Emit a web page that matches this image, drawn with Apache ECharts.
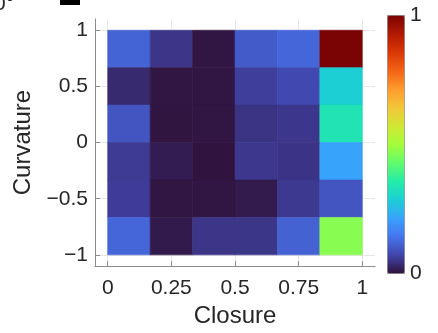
<!DOCTYPE html>
<html>
<head>
<meta charset="utf-8">
<script src="https://cdn.jsdelivr.net/npm/echarts@6/dist/echarts.min.js"></script>
<style>
html,body{margin:0;padding:0;background:#fff;}
#chart{width:438px;height:333px;}
</style>
</head>
<body>
<div id="chart"></div>
<script>
// ---- data ----
const closureCenters = [0.0833, 0.25, 0.4167, 0.5833, 0.75, 0.9167];
const curvatureCenters = [0.8333, 0.5, 0.1667, -0.1667, -0.5, -0.8333];
// values[row][col], rows top (curvature 0.83) to bottom (-0.83)
const values = [
  [0.116, 0.049, 0.005, 0.104, 0.121, 1.000],
  [0.033, 0.005, 0.005, 0.061, 0.077, 0.286],
  [0.095, 0.004, 0.005, 0.046, 0.052, 0.336],
  [0.057, 0.014, 0.002, 0.053, 0.048, 0.216],
  [0.059, 0.005, 0.006, 0.012, 0.054, 0.095],
  [0.120, 0.011, 0.049, 0.050, 0.114, 0.470]
];
const xTicks = [0, 0.25, 0.5, 0.75, 1];
const yTicks = [-1, -0.5, 0, 0.5, 1];
const colorbarLabels = ['1', '0'];

// ---- styles ----
const turbo = ['#30123b','#4145ab','#4675ed','#39a2fc','#1bcfd4','#24eca6','#61fc6c','#a4fc3b','#d1e834','#f3c63a','#fe9b2d','#f36315','#d93806','#b11901','#7a0403'];
const cellW = 1/6, cellH = 1/3;
const FONT = "'Liberation Sans', Arial, Helvetica, sans-serif";
const TXT = '#262626';
const AX = '#8c8c8c';
const GRIDC = '#e6e6e6';

const data = [];
curvatureCenters.forEach((cy, r) => {
  closureCenters.forEach((cx, c) => {
    data.push([cx, cy, values[r][c]]);
  });
});

const fmt = v => String(v).replace('-', '\u2212');

const chart = echarts.init(document.getElementById('chart'), null, {renderer: 'canvas'});
chart.setOption({
  backgroundColor: '#fff',
  animation: false,
  grid: {left: 95, right: 63, top: 19, bottom: 66, containLabel: false},
  xAxis: {
    type: 'value', min: -0.05, max: 1.05,
    name: 'Closure', nameLocation: 'middle', nameGap: 35,
    nameTextStyle: {fontFamily: FONT, fontSize: 24, color: TXT},
    axisLine: {show: true, onZero: false, lineStyle: {color: AX, width: 1}},
    axisTick: {show: true, inside: true, length: 5, customValues: xTicks, lineStyle: {color: AX}},
    axisLabel: {customValues: xTicks, formatter: fmt, margin: 12, fontFamily: FONT, fontSize: 21, color: TXT},
    splitLine: {show: true, lineStyle: {color: GRIDC, width: 1}}
  },
  yAxis: {
    type: 'value', min: -1.1, max: 1.1,
    name: 'Curvature', nameLocation: 'middle', nameGap: 56, nameRotate: 90,
    nameTextStyle: {fontFamily: FONT, fontSize: 24, color: TXT},
    axisLine: {show: true, onZero: false, lineStyle: {color: AX, width: 1}},
    axisTick: {show: true, inside: true, length: 5, customValues: yTicks, lineStyle: {color: AX}},
    axisLabel: {customValues: yTicks, formatter: fmt, margin: 7, fontFamily: FONT, fontSize: 21, color: TXT},
    splitLine: {show: true, lineStyle: {color: GRIDC, width: 1}}
  },
  visualMap: {
    type: 'continuous', min: 0, max: 1, dimension: 2, seriesIndex: 0,
    orient: 'vertical', left: 387, top: 15, itemWidth: 17, itemHeight: 258,
    calculable: false, text: null, showLabel: false, padding: 0,
    borderColor: '#8c8c8c', borderWidth: 1,
    inRange: {color: turbo}
  },
  graphic: [
    {type: 'text', left: 410, top: 5, style: {text: colorbarLabels[0], font: '21px ' + FONT, fill: TXT}},
    {type: 'text', left: 410, top: 263, style: {text: colorbarLabels[1], font: '21px ' + FONT, fill: TXT}},
    {type: 'text', x: -6, y: -6, style: {text: '0°', font: '21px ' + FONT, fill: TXT}},
    {type: 'rect', shape: {x: 60, y: 0, width: 20, height: 5}, style: {fill: '#000'}}
  ],
  series: [{
    type: 'custom',
    data: data,
    encode: {x: 0, y: 1},
    renderItem: function (params, api) {
      const x = api.value(0), y = api.value(1);
      const p0 = api.coord([x - cellW / 2, y + cellH / 2]);
      const p1 = api.coord([x + cellW / 2, y - cellH / 2]);
      const c = api.visual('color');
      return {
        type: 'rect',
        shape: {x: p0[0], y: p0[1], width: p1[0] - p0[0], height: p1[1] - p0[1]},
        style: {fill: c, stroke: c, lineWidth: 0.6}
      };
    }
  }]
});
</script>
</body>
</html>
